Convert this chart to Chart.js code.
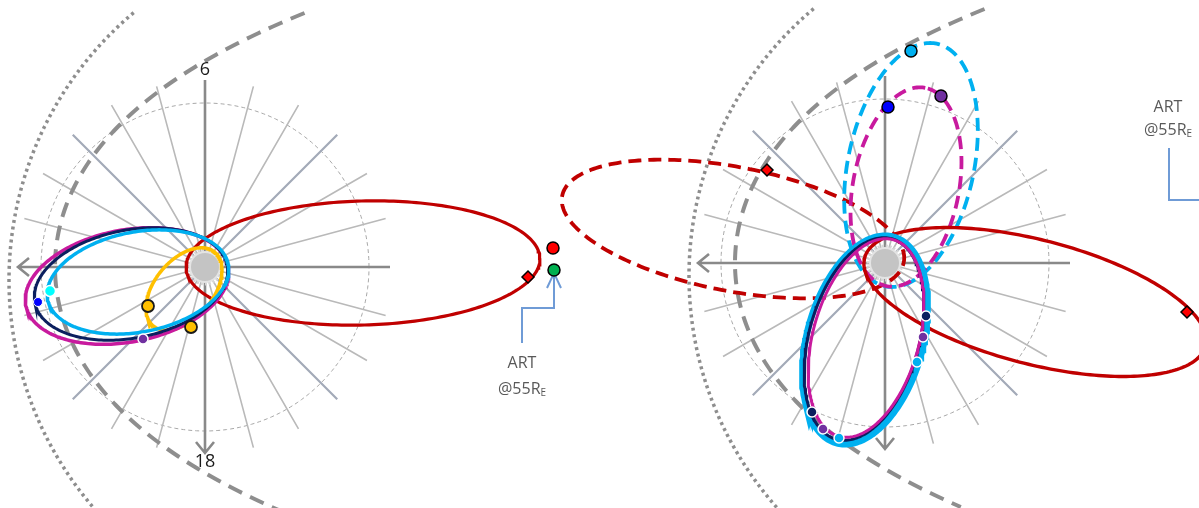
<!DOCTYPE html>
<html>
<head>
<meta charset="utf-8">
<script src="https://cdn.jsdelivr.net/npm/chart.js@4.4.0/dist/chart.umd.min.js"></script>
<style>
  html, body { margin: 0; padding: 0; background: #fff; }
  #wrap { width: 1199px; height: 508px; }
</style>
</head>
<body>
<div id="wrap"><canvas id="chart" width="1199" height="508"></canvas></div>
<script>
// Earth position of each panel (plot units, 1 unit ~ 1 px)
const leftEarth = { x: 0, y: 0 };
const rightEarth = { x: 680, y: 4 };

// orbit ellipses, relative to Earth: [centreX, centreY, semiMajor, semiMinor, tiltDeg]
const leftRed = [158, 4, 177, 62, 1.5];
const leftMagenta = [-78, -19, 103, 56, 10.9];
const leftNavy = [-74, -17, 98, 54, 11];
const leftBlue = [-67, -15, 92, 50, 11];
const leftYellow = [-21, -22, 48, 29, 50];

const rightRed = [150, -39, 176, 62, -14.5];
const rightRedDash = [-152, 34, 174, 62, -11];
const rightBlueDash = [26, 98, 124, 63, 78];
const rightMagentaDash = [21, 76, 101, 53, 79];
const rightBlue = [-20, -77, 107, 58, 74.5];
const rightNavy = [-21, -76, 104, 55, 74.5];
const rightMagenta = [-19, -75, 102, 53, 74.5];

// spacecraft positions, relative to Earth
const leftYellowDots = [[-57, -39], [-14, -60]];
const leftBlueDot = [[-167, -35]];
const leftCyanDot = [[-155, -24]];
const leftPurpleDot = [[-62, -72]];
const leftRedMarker = [[323, -10]];
const artRed = [[348, 19]];
const artGreen = [[349, -3]];

const rightNavyDots = [[41, -53], [-73, -149]];
const rightPurpleDots = [[38, -74], [-62, -166]];
const rightBlueDots = [[32, -99], [-46, -175]];
const rightTopBlue = [[26, 212]];
const rightTopPurple = [[56, 167]];
const rightTopDarkBlue = [[3, 156]];
const rightRedMarkers = [[302, -49], [-118, 93]];

// background frame
const gridRadius = 164;
const spokeLength = 187;
const spokeAnglesMajor = [45, 135, 225, 315];
const spokeAnglesMinor = [15, 30, 60, 75, 105, 120, 150, 165, 195, 210, 240, 255, 285, 300, 330, 345];
const axisLeft = -187, axisRight = 185, axisTop = 187, axisBottom = -186;
// magnetopause: x = nose + k*y^2 + m*y^4, for y in [yMin, yMax]
const magnetopause = { nose: -150, k: 0.0029, m: 1.5e-8, yMin: -244, yMax: 254 };
// bow shock: circle arc between two angles
const bowShock = { cx: 153, cy: -13, r: 349, from: 130, to: 224 };

// callouts
const leftCallout = [[317, -76], [317, -41], [349, -41], [349, -6]];
const rightCallout = [[284, 115], [284, 63], [340, 63]];

const RAD = Math.PI / 180;

function ellipse(p, o) {
  const [cx, cy, a, b, tilt] = p;
  const t = tilt * RAD;
  const pts = [];
  for (let i = 0; i <= 240; i++) {
    const s = i / 240 * 2 * Math.PI;
    const u = a * Math.cos(s), v = b * Math.sin(s);
    pts.push({ x: o.x + cx + u * Math.cos(t) - v * Math.sin(t), y: o.y + cy + u * Math.sin(t) + v * Math.cos(t) });
  }
  return pts;
}

function circle(o, r) {
  return ellipse([0, 0, r, r, 0], o);
}

function spokes(o, angles) {
  const pts = [];
  angles.forEach((a) => {
    pts.push({ x: o.x, y: o.y });
    pts.push({ x: o.x + spokeLength * Math.cos(a * RAD), y: o.y + spokeLength * Math.sin(a * RAD) });
    pts.push({ x: NaN, y: NaN });
  });
  return pts;
}

function axes(o) {
  return [
    { x: o.x + axisLeft, y: o.y }, { x: o.x + axisRight, y: o.y }, { x: NaN, y: NaN },
    { x: o.x, y: o.y + axisTop }, { x: o.x, y: o.y + axisBottom }, { x: NaN, y: NaN },
    { x: o.x + axisLeft + 11, y: o.y + 9 }, { x: o.x + axisLeft, y: o.y }, { x: o.x + axisLeft + 11, y: o.y - 9 }, { x: NaN, y: NaN },
    { x: o.x - 9, y: o.y + axisBottom + 11 }, { x: o.x, y: o.y + axisBottom }, { x: o.x + 9, y: o.y + axisBottom + 11 },
  ];
}

function mpCurve(o) {
  const { nose, k, m, yMin, yMax } = magnetopause;
  const pts = [];
  for (let y = yMax; y >= yMin; y -= 2) {
    pts.push({ x: o.x + nose + k * y * y + m * y ** 4, y: o.y + y });
  }
  return pts;
}

function bsCurve(o) {
  const pts = [];
  for (let d = bowShock.from; d <= bowShock.to; d += 1) {
    pts.push({ x: o.x + bowShock.cx + bowShock.r * Math.cos(d * RAD), y: o.y + bowShock.cy + bowShock.r * Math.sin(d * RAD) });
  }
  return pts;
}

function shift(list, o) {
  return list.map(([x, y]) => ({ x: o.x + x, y: o.y + y }));
}

function line(data, color, width, dash) {
  return { type: 'scatter', data, showLine: true, fill: false, borderColor: color, borderWidth: width,
    borderDash: dash || [], pointRadius: 0, spanGaps: false, tension: 0 };
}

function dots(data, bg, border, r, bw, style) {
  return { type: 'scatter', data, showLine: false, pointStyle: style || 'circle', pointRadius: r,
    backgroundColor: bg, pointBackgroundColor: bg, pointBorderColor: border, pointBorderWidth: bw };
}

const RED = '#c00000', MAG = '#c81a9e', LBLUE = '#00b0f0', NAVY = '#0b1f5e', YEL = '#ffc000';
const layers = [];

[leftEarth, rightEarth].forEach((o) => {
  layers.push(line(circle(o, gridRadius), '#a8a8a8', 1, [4, 3]));
  layers.push(line(spokes(o, spokeAnglesMinor), '#b9b9b9', 1.6));
  layers.push(line(spokes(o, spokeAnglesMajor), '#a3aab8', 2.2));
  layers.push(line(axes(o), '#898989', 2.6));
  layers.push(line(bsCurve(o), '#8e8e8e', 3.5, [3, 3.6]));
  layers.push(line(mpCurve(o), '#8e8e8e', 4, [15, 9]));
  layers.push(line(circle(o, 17), '#d6d6d6', 3, [2, 2]));
  layers.push(dots([{ x: o.x, y: o.y }], '#c4c4c4', '#e4e4e4', 15, 2));
});

// left panel orbits
layers.push(line(ellipse(leftRed, leftEarth), RED, 3.2));
layers.push(line(ellipse(leftYellow, leftEarth), YEL, 3.5));
layers.push(line(ellipse(leftMagenta, leftEarth), MAG, 3.5));
layers.push(line(ellipse(leftNavy, leftEarth), NAVY, 3));
layers.push(line(ellipse(leftBlue, leftEarth), LBLUE, 3.5));

// right panel orbits
layers.push(line(ellipse(rightRedDash, rightEarth), RED, 3.8, [13, 7]));
layers.push(line(ellipse(rightBlueDash, rightEarth), LBLUE, 3.8, [13, 7]));
layers.push(line(ellipse(rightMagentaDash, rightEarth), MAG, 3.8, [13, 7]));
layers.push(line(ellipse(rightRed, rightEarth), RED, 3.4));
layers.push(line(ellipse(rightBlue, rightEarth), LBLUE, 6.5));
layers.push(line(ellipse(rightNavy, rightEarth), NAVY, 3));
layers.push(line(ellipse(rightMagenta, rightEarth), MAG, 3));

// callouts
layers.push(line(shift(leftCallout, leftEarth), '#6f9bd6', 2));
layers.push(line(shift([[342, -21], [349, -6], [356, -21]], leftEarth), '#6f9bd6', 2));
layers.push(line(shift(rightCallout, rightEarth), '#6f9bd6', 2));

// markers
layers.push(dots(shift(leftYellowDots, leftEarth), YEL, '#1a1a1a', 6, 1.8));
layers.push(dots(shift(leftPurpleDot, leftEarth), '#7030a0', '#ffffff', 5, 1.5));
layers.push(dots(shift(leftBlueDot, leftEarth), '#0000ff', '#ffffff', 4.5, 1));
layers.push(dots(shift(leftCyanDot, leftEarth), '#00ffff', '#ffffff', 5.5, 1.5));
layers.push(dots(shift(leftRedMarker, leftEarth), '#ff0000', '#000000', 6, 1.5, 'rectRot'));
layers.push(dots(shift(artRed, leftEarth), '#ff0000', '#000000', 6, 1.5));
layers.push(dots(shift(artGreen, leftEarth), '#00b050', '#000000', 6, 1.5));

layers.push(dots(shift(rightNavyDots, rightEarth), NAVY, '#ffffff', 5, 1.5));
layers.push(dots(shift(rightPurpleDots, rightEarth), '#7030a0', '#ffffff', 5, 1.5));
layers.push(dots(shift(rightBlueDots, rightEarth), LBLUE, '#ffffff', 5, 1.5));
layers.push(dots(shift(rightTopBlue, rightEarth), LBLUE, '#000000', 6, 1.5));
layers.push(dots(shift(rightTopPurple, rightEarth), '#7030a0', '#000000', 6, 1.5));
layers.push(dots(shift(rightTopDarkBlue, rightEarth), '#0000ff', '#000000', 6, 1.5));
layers.push(dots(shift(rightRedMarkers, rightEarth), '#ff0000', '#000000', 6, 1.5, 'rectRot'));

// first pushed = drawn first (at the back)
layers.forEach((ds, i) => { ds.order = layers.length - i; });

const textLabels = [
  { text: '6', x: leftEarth.x, y: leftEarth.y + 197, size: 18, color: '#1a1a1a' },
  { text: '18', x: leftEarth.x, y: leftEarth.y - 195, size: 18, color: '#1a1a1a' },
  { text: 'ART', x: leftEarth.x + 317, y: leftEarth.y - 96, size: 16, color: '#595959' },
  { text: '@55R', sub: 'E', x: leftEarth.x + 317, y: leftEarth.y - 122, size: 16, color: '#595959' },
  { text: 'ART', x: rightEarth.x + 283, y: rightEarth.y + 156, size: 16, color: '#595959' },
  { text: '@55R', sub: 'E', x: rightEarth.x + 283, y: rightEarth.y + 133, size: 16, color: '#595959' },
];

const labelPlugin = {
  id: 'orbitLabels',
  afterDatasetsDraw(chart) {
    const { ctx, scales: { x, y } } = chart;
    ctx.save();
    ctx.textBaseline = 'middle';
    textLabels.forEach((l) => {
      const px = x.getPixelForValue(l.x), py = y.getPixelForValue(l.y);
      ctx.fillStyle = l.color;
      ctx.font = `${l.size}px "Open Sans", sans-serif`;
      const w = ctx.measureText(l.text).width;
      let sw = 0;
      if (l.sub) {
        ctx.font = `${l.size * 0.62}px "Open Sans", sans-serif`;
        sw = ctx.measureText(l.sub).width;
      }
      const start = px - (w + sw) / 2;
      ctx.textAlign = 'left';
      ctx.font = `${l.size}px "Open Sans", sans-serif`;
      ctx.fillText(l.text, start, py);
      if (l.sub) {
        ctx.font = `${l.size * 0.62}px "Open Sans", sans-serif`;
        ctx.fillText(l.sub, start + w, py + l.size * 0.28);
      }
    });
    ctx.restore();
  },
};

new Chart(document.getElementById('chart'), {
  type: 'scatter',
  data: { datasets: layers },
  options: {
    responsive: false,
    animation: false,
    devicePixelRatio: 1,
    layout: { padding: 0, autoPadding: false },
    plugins: { legend: { display: false }, tooltip: { enabled: false } },
    scales: {
      x: { type: 'linear', min: -205, max: 994, display: false },
      y: { type: 'linear', min: -241, max: 267, display: false },
    },
  },
  plugins: [labelPlugin],
});
</script>
</body>
</html>
